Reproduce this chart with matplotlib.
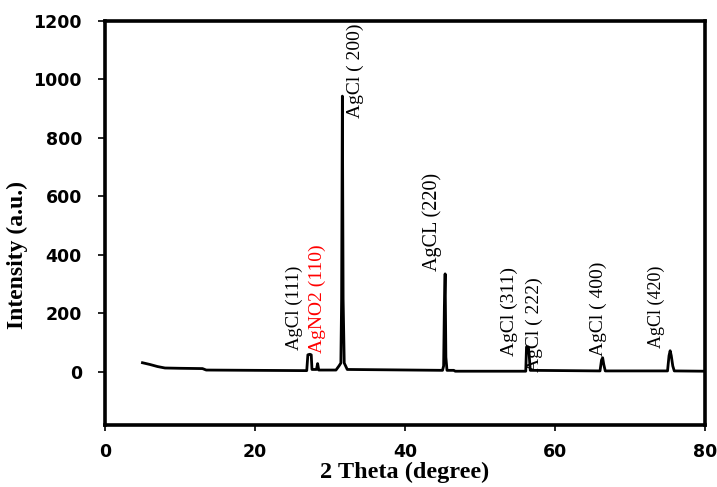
import matplotlib
matplotlib.use("Agg")
import matplotlib.pyplot as plt

# XRD pattern
two_theta = [5.0, 6.0, 7.0, 8.0, 10.0, 13.0, 13.5, 20.0, 26.9, 27.05, 27.3, 27.5, 27.6,
             28.2, 28.35, 28.5, 30.8, 31.2, 31.45, 31.55, 31.65, 31.75, 31.9, 32.3,
             45.0, 45.15, 45.25, 45.35, 45.45, 45.6, 46.5, 46.7, 56.1, 56.2, 56.45,
             56.55, 56.7, 66.0, 66.2, 66.35, 66.5, 66.7, 75.0, 75.2, 75.35, 75.5,
             75.7, 75.9, 80.0]
intensity = [31, 25, 18, 13, 12, 11, 6, 5, 4, 58, 60, 58, 8,
             8, 28, 6, 6, 20, 30, 250, 943, 250, 30, 8,
             5, 20, 225, 335, 50, 5, 5, 2, 2, 85, 85,
             60, 5, 3, 40, 48, 25, 3, 3, 55, 72, 55,
             20, 3, 2]

peak_labels = ["AgCl (111)", "AgNO2 (110)", "AgCl ( 200)", "AgCL (220)",
               "AgCl (311)", "AgCl ( 222)", "AgCl ( 400)", "AgCl (420)"]
label_x = [25.2, 28.3, 33.4, 43.6, 53.9, 57.3, 65.8, 73.5]
label_y = [75, 65, 868, 345, 55, 0, 55, 82]
label_colors = ["black", "red", "black", "black", "black", "black", "black", "black"]

x_ticks = [0, 20, 40, 60, 80]
y_ticks = [0, 200, 400, 600, 800, 1000, 1200]

# text sizes of the peak labels (style)
label_sizes = [13.5, 14, 14, 14.5, 14, 14, 14, 13]

DPI = 100
fig = plt.figure(figsize=(7.17, 4.87), dpi=DPI)
ax = fig.add_axes([0.1464, 0.1273, 0.8369, 0.8296])

ax.plot(two_theta, intensity, color="black", lw=2.0)

for t, x, y, c, fs in zip(peak_labels, label_x, label_y, label_colors, label_sizes):
    ax.text(x, y, t, rotation=90, ha="center", va="bottom", color=c,
            fontsize=fs, family="Liberation Serif")

ax.set_xlim(0, 80)
ax.set_ylim(-182, 1200)
ax.set_xticks(x_ticks)
ax.set_yticks(y_ticks)
ax.set_xticklabels([str(v) for v in x_ticks], family="DejaVu Sans",
                   fontweight="bold", fontsize=12.5)
ax.set_yticklabels([str(v) for v in y_ticks], family="DejaVu Sans",
                   fontweight="bold", fontsize=12.5)
ypad, xpad = 10.0, 10.0
ax.tick_params(axis="y", direction="out", length=5, width=1.2, pad=ypad)
ax.tick_params(axis="x", direction="out", length=4, width=1.2, pad=xpad)

for s in ax.spines.values():
    s.set_linewidth(2.6)

ax.set_xlabel("2 Theta (degree)", family="Liberation Serif", fontweight="bold",
              fontsize=17.5)
ax.set_ylabel("Intensity (a.u.)", family="Liberation Serif", fontweight="bold",
              fontsize=17)
ax.yaxis.set_label_coords(-0.128, 0.42)
ax.xaxis.set_label_coords(0.5, -0.092)

# fit tick-label gaps to the reference (right edge of y labels at x=82 px,
# top of x labels at y=443 px from top)
fig.canvas.draw()
r = fig.canvas.get_renderer()
H = fig.get_figheight() * DPI
bby = ax.get_yticklabels()[-1].get_window_extent(r)
bbx = ax.get_xticklabels()[0].get_window_extent(r)
ypad = max(1.0, ypad + (bby.x1 - 82) * 72.0 / DPI)
xpad = max(1.0, xpad + (bbx.y1 - (H - 443)) * 72.0 / DPI)
ax.tick_params(axis="y", pad=ypad)
ax.tick_params(axis="x", pad=xpad)

fig.savefig("out.png", dpi=DPI)
